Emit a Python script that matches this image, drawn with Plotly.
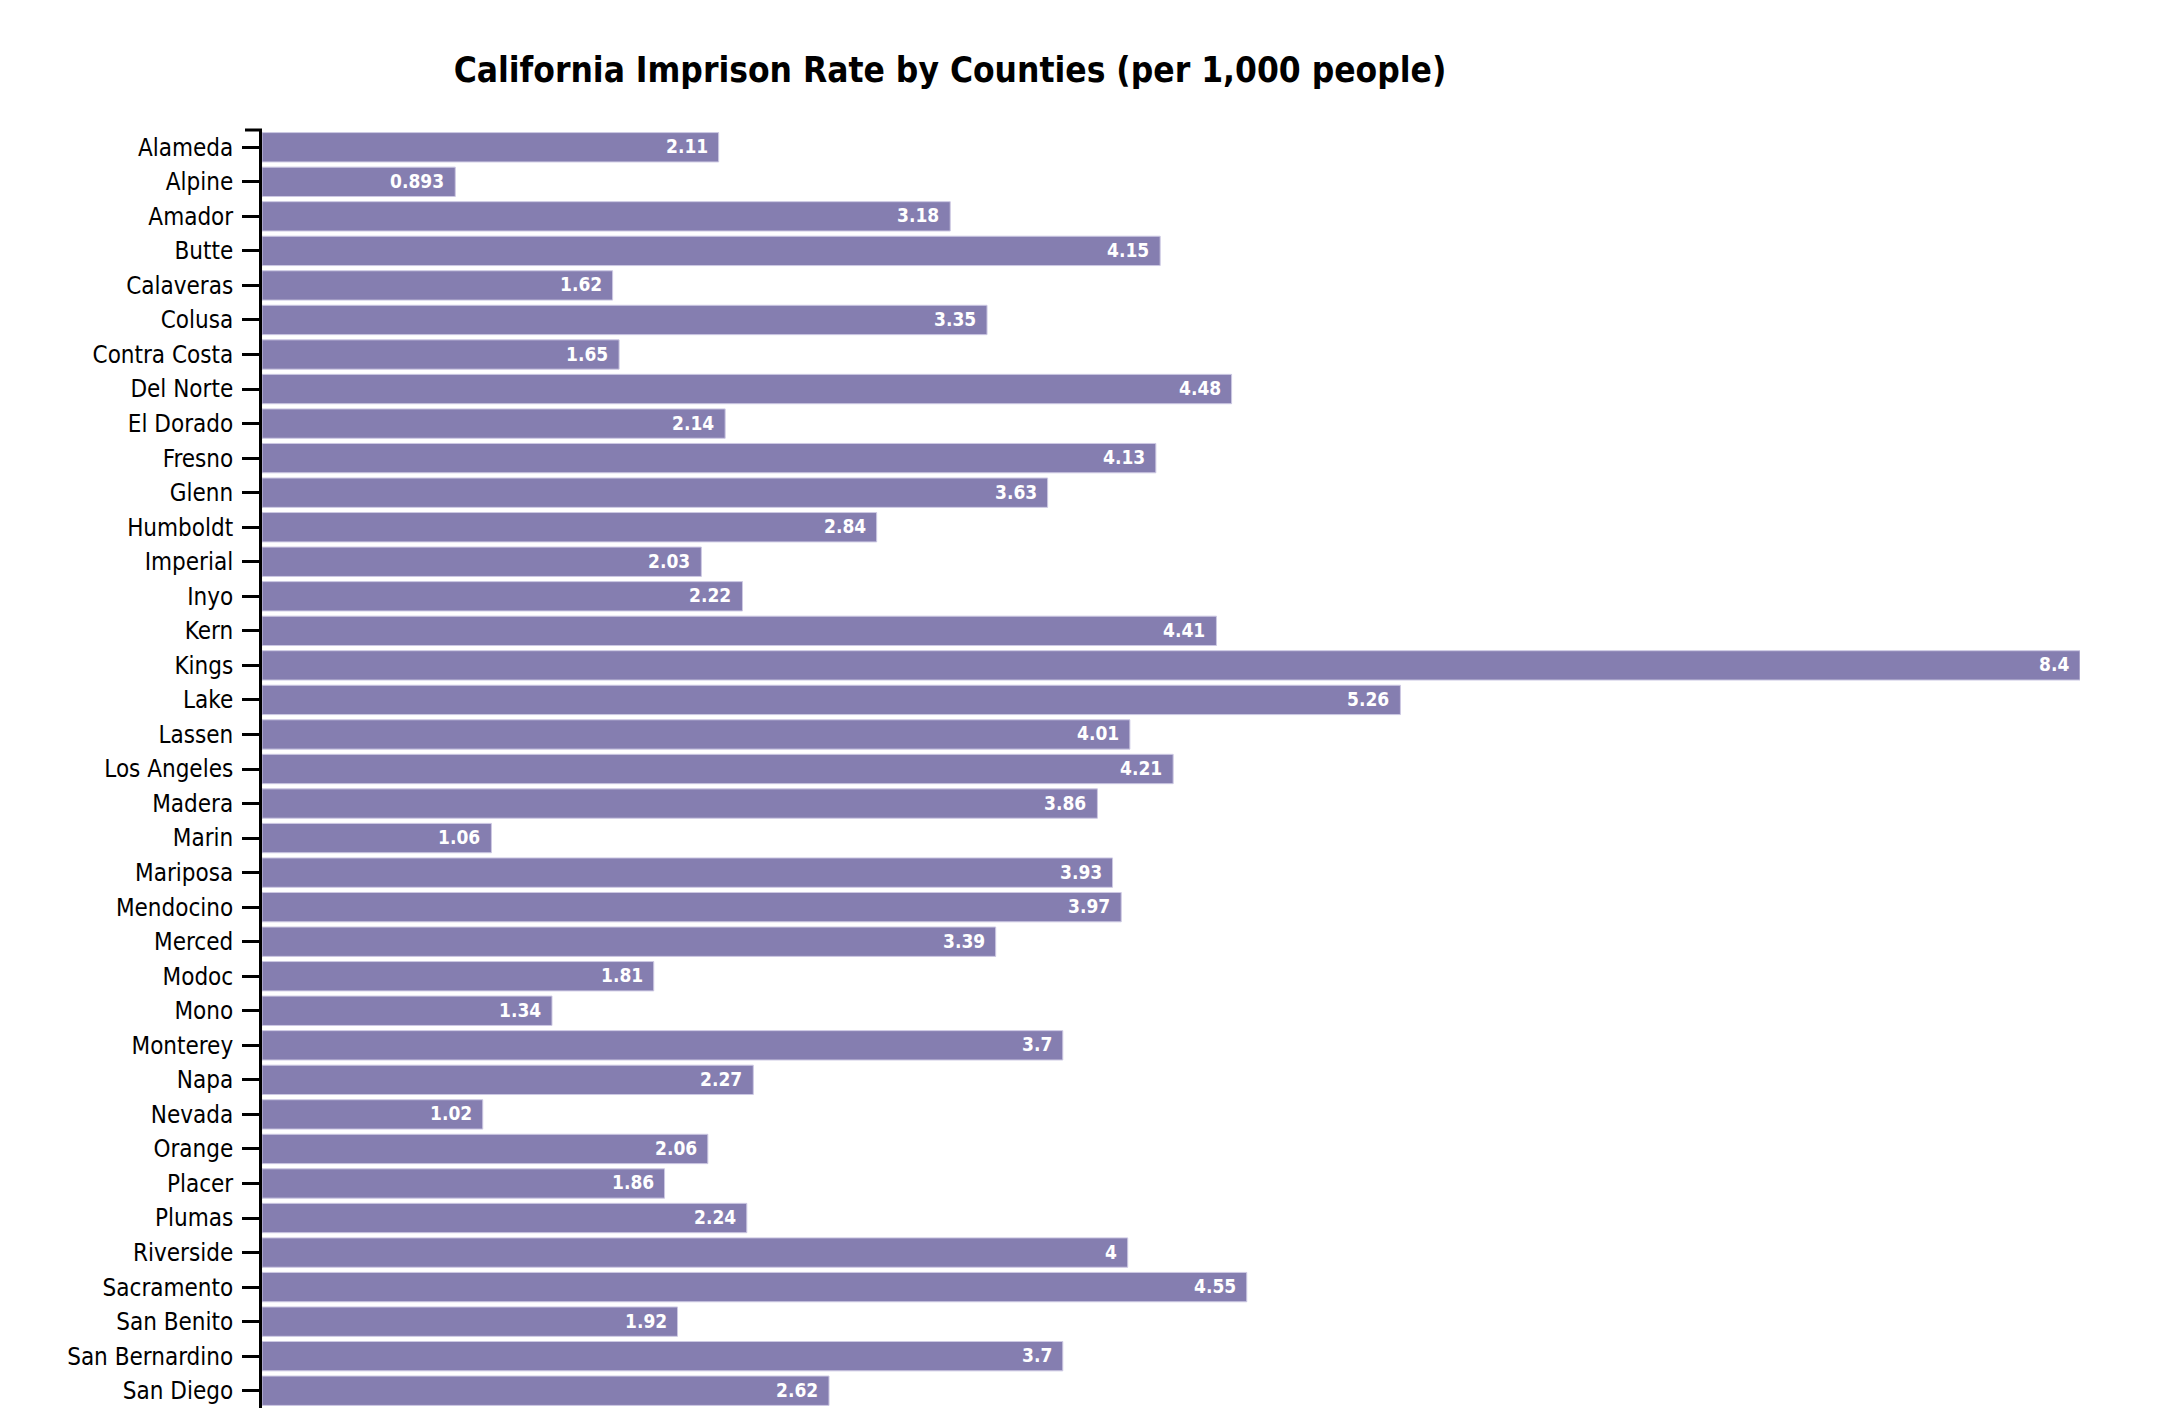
import plotly.graph_objects as go

counties = ["Alameda", "Alpine", "Amador", "Butte", "Calaveras", "Colusa", "Contra Costa",
            "Del Norte", "El Dorado", "Fresno", "Glenn", "Humboldt", "Imperial", "Inyo",
            "Kern", "Kings", "Lake", "Lassen", "Los Angeles", "Madera", "Marin", "Mariposa",
            "Mendocino", "Merced", "Modoc", "Mono", "Monterey", "Napa", "Nevada", "Orange",
            "Placer", "Plumas", "Riverside", "Sacramento", "San Benito", "San Bernardino",
            "San Diego"]
rates = [2.11, 0.893, 3.18, 4.15, 1.62, 3.35, 1.65,
         4.48, 2.14, 4.13, 3.63, 2.84, 2.03, 2.22,
         4.41, 8.4, 5.26, 4.01, 4.21, 3.86, 1.06, 3.93,
         3.97, 3.39, 1.81, 1.34, 3.7, 2.27, 1.02, 2.06,
         1.86, 2.24, 4, 4.55, 1.92, 3.7,
         2.62]
title_text = "California Imprison Rate by Counties (per 1,000 people)"

FONT = "DejaVu Sans Condensed, Liberation Sans Narrow, sans-serif"
BAR = "#857eb0"

OFF = 8  # default page body margin
W, H = 2180 - OFF, 1408 - OFF
L, R, T, B = 262 - OFF, 100, 130 - OFF, 0

fig = go.Figure(go.Bar(
    x=rates, y=counties, orientation="h",
    marker=dict(color=BAR, line=dict(color="#cdc9e3", width=1)),
    hoverinfo="x+y",
))

for c, v in zip(counties, rates):
    fig.add_annotation(x=v, y=c, text="<b>" + str(v) + "</b>", showarrow=False,
                       xanchor="right", xshift=-9, yshift=1,
                       font=dict(family=FONT, size=19, color="white"))

plot_w = W - L - R
fig.add_shape(type="line", xref="paper", yref="paper",
              x0=-17 / plot_w, x1=0, y0=1, y1=1,
              line=dict(color="black", width=3))

fig.update_layout(
    width=W, height=H,
    margin=dict(l=L, r=R, t=T, b=B, pad=0),
    plot_bgcolor="white", paper_bgcolor="white",
    bargap=0.15,
    showlegend=False,
    title=dict(text="<b>" + title_text + "</b>", x=(950 - OFF) / W, xanchor="center",
               xref="container", y=1 - (70 - OFF) / H, yanchor="middle", yref="container",
               font=dict(family=FONT, size=35, color="black")),
    xaxis=dict(range=[0, 8.4], visible=False, fixedrange=True),
    yaxis=dict(autorange="reversed", showline=True, linecolor="black", linewidth=3,
               ticks="outside", ticklen=17, tickwidth=3, tickcolor="black",
               ticklabelstandoff=4,
               tickfont=dict(family=FONT, size=24, color="black"),
               showgrid=False, zeroline=False, fixedrange=True),
)

fig.write_html("out.html")
